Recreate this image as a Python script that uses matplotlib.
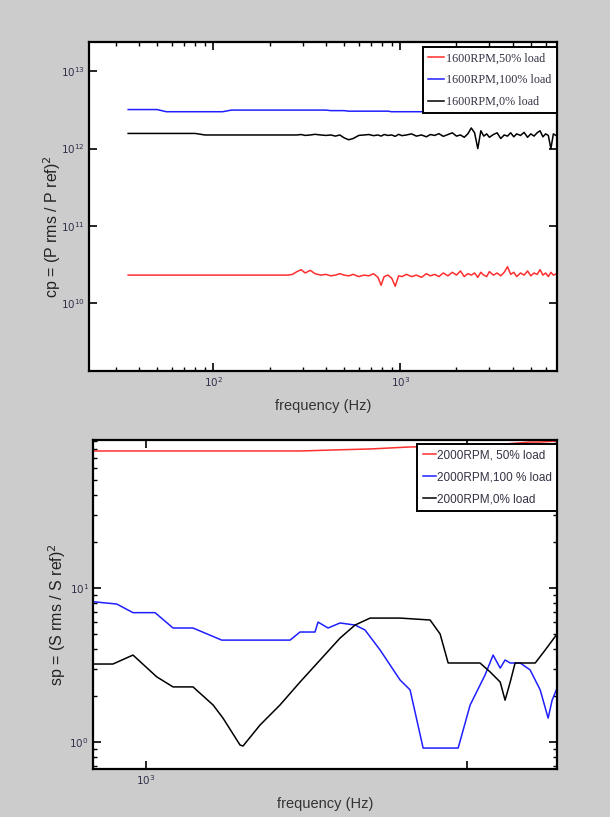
import matplotlib
matplotlib.use('Agg')
import matplotlib.pyplot as plt
from matplotlib.ticker import NullLocator, NullFormatter, FixedLocator, FixedFormatter

# ---- upper panel: 1600 RPM, cp spectra ----
freq_top = [35, 40, 45, 50, 56, 63, 71, 80, 90, 100,
            112, 125, 140, 160, 180, 200, 224, 250, 265, 280,
            295, 310, 330, 350, 375, 400, 425, 450, 475, 500,
            530, 560, 600, 640, 680, 720, 760, 790, 820, 860,
            900, 940, 980, 1020, 1080, 1150, 1220, 1300, 1380, 1450,
            1530, 1610, 1700, 1800, 1900, 2000, 2100, 2200, 2300, 2400,
            2500, 2600, 2700, 2800, 2900, 3000, 3150, 3300, 3450, 3600,
            3750, 3900, 4050, 4200, 4400, 4600, 4800, 5000, 5200, 5400,
            5600, 5800, 6000, 6200, 6400, 6600, 6900]

# 50% load, x 1e10
cp_50 = [2.3, 2.3, 2.3, 2.3, 2.3, 2.3, 2.3, 2.3, 2.3, 2.3,
         2.3, 2.3, 2.3, 2.3, 2.3, 2.3, 2.3, 2.3, 2.35, 2.55,
         2.7, 2.45, 2.65, 2.4, 2.3, 2.35, 2.25, 2.3, 2.4, 2.3,
         2.25, 2.35, 2.2, 2.3, 2.25, 2.4, 2.15, 1.7, 2.2, 2.3,
         2.1, 1.65, 2.25, 2.2, 2.35, 2.2, 2.3, 2.15, 2.4, 2.25,
         2.35, 2.2, 2.45, 2.25, 2.5, 2.3, 2.6, 2.2, 2.4, 2.3,
         2.45, 2.15, 2.5, 2.3, 2.2, 2.55, 2.3, 2.45, 2.25, 2.5,
         2.95, 2.35, 2.5, 2.2, 2.45, 2.3, 2.6, 2.25, 2.45, 2.35,
         2.7, 2.3, 2.45, 2.2, 2.5, 2.3, 2.4]

# 100% load, x 1e12
cp_100 = [3.2, 3.2, 3.2, 3.2, 3.0, 3.0, 3.0, 3.0, 3.0, 3.0,
          3.0, 3.15, 3.15, 3.15, 3.15, 3.15, 3.15, 3.15, 3.15, 3.15,
          3.15, 3.15, 3.15, 3.15, 3.15, 3.15, 3.1, 3.1, 3.1, 3.1,
          3.05, 3.05, 3.05, 3.05, 3.05, 3.05, 3.05, 3.05, 3.05, 3.05,
          3.0, 3.0, 3.0, 3.0, 3.0, 3.0, 3.0, 3.0, 3.0, 3.0,
          3.0, 3.05, 3.0, 3.05, 3.0, 3.05, 3.0, 3.05, 3.0, 3.05,
          3.0, 3.05, 3.0, 3.05, 3.0, 3.05, 3.0, 3.05, 3.0, 3.05,
          3.0, 3.05, 3.0, 3.05, 3.0, 3.05, 3.0, 3.05, 3.0, 3.05,
          3.0, 3.05, 3.0, 3.05, 3.0, 3.05, 3.0]

# 0% load, x 1e12
cp_0 = [1.57, 1.57, 1.57, 1.57, 1.57, 1.57, 1.57, 1.57, 1.5, 1.5,
        1.5, 1.5, 1.5, 1.5, 1.5, 1.5, 1.5, 1.5, 1.5, 1.5,
        1.52, 1.48, 1.5, 1.53, 1.5, 1.48, 1.5, 1.45, 1.5, 1.38,
        1.3, 1.35, 1.48, 1.5, 1.52, 1.47, 1.5, 1.45, 1.52, 1.48,
        1.5, 1.44, 1.53, 1.47, 1.5, 1.55, 1.45, 1.5, 1.42, 1.52,
        1.48, 1.56, 1.44, 1.52, 1.6, 1.45, 1.5, 1.4, 1.55, 1.85,
        1.6, 1.0, 1.7, 1.45, 1.55, 1.4, 1.52, 1.6, 1.35, 1.5,
        1.45, 1.6, 1.42, 1.55, 1.48, 1.62, 1.4, 1.55, 1.45, 1.6,
        1.7, 1.42, 1.55, 1.48, 1.0, 1.55, 1.45]

# ---- lower panel: 2000 RPM, sp spectra ----
freq_red_bot = [684, 1000, 2000, 3017, 4020, 5000, 6644, 10000, 13000, 15700, 16900, 19060]
sp_50 = [77.6, 77.6, 77.6, 77.6, 79.0, 80.0, 82.4, 84.0, 86.0, 88.7, 88.7, 90.0]

freq_blue_bot = [684, 811, 911, 1067, 1214, 1401, 1721, 2810, 3017, 3360,
                 3434, 3690, 4020, 4478, 4810, 5358, 6183, 6644, 7295, 9380,
                 10220, 11370, 12050, 12680, 13130, 13620, 14630, 15710, 16890, 17880,
                 18400, 19060]
sp_100 = [8.15, 7.87, 6.92, 6.92, 5.50, 5.50, 4.59, 4.59, 5.18, 5.18,
          6.01, 5.50, 5.93, 5.75, 5.34, 3.96, 2.53, 2.18, 0.914, 0.914,
          1.74, 2.72, 3.67, 3.02, 3.41, 3.26, 3.26, 2.94, 2.18, 1.43,
          1.87, 2.24]

freq_black_bot = [684, 789, 911, 1080, 1214, 1401, 1618, 1737, 1963, 2005,
                  2266, 2614, 3017, 3485, 4020, 4478, 4987, 6183, 7670, 8240,
                  8730, 10970, 11800, 12680, 13130, 13620, 14110, 16300, 17510, 19060]
sp_0 = [3.21, 3.21, 3.67, 2.65, 2.28, 2.28, 1.74, 1.43, 0.956, 0.942,
        1.29, 1.74, 2.45, 3.41, 4.73, 5.75, 6.38, 6.38, 6.20, 5.03,
        3.26, 3.26, 2.85, 2.45, 1.87, 2.45, 3.26, 3.26, 3.96, 5.03]

top_labels = ['1600RPM,50% load', '1600RPM,100% load', '1600RPM,0% load']
bot_labels = ['2000RPM, 50% load', '2000RPM,100 % load', '2000RPM,0% load']

RED = '#ff2e2e'
BLUE = '#1f1fff'
TICKCOL = '#30304a'
SANS = 'Liberation Sans'


def style_axes(ax):
    for s in ax.spines.values():
        s.set_linewidth(1.6)
        s.set_color('black')
    ax.tick_params(which='both', direction='in', top=True, right=True,
                   colors='black', labelcolor=TICKCOL, labelsize=7.5, pad=3)
    ax.tick_params(which='major', length=6, width=1.2)
    ax.tick_params(which='minor', length=3, width=1.0)


fig = plt.figure(figsize=(6.1, 8.17), dpi=100)
fig.patch.set_facecolor('#cccccc')

# upper panel
ax1 = fig.add_axes([0.1459, 0.5459, 0.7672, 0.4027])
ax1.plot(freq_top, [v * 1e10 for v in cp_50], color=RED, lw=1.1, label=top_labels[0])
ax1.plot(freq_top, [v * 1e12 for v in cp_100], color=BLUE, lw=1.1, label=top_labels[1])
ax1.plot(freq_top, [v * 1e12 for v in cp_0], color='black', lw=1.1, label=top_labels[2])
ax1.set_xscale('log')
ax1.set_yscale('log')
ax1.set_xlim(21.6, 6900)
ax1.set_ylim(10 ** 9.12, 10 ** 13.38)
ax1.yaxis.set_minor_locator(NullLocator())
ax1.xaxis.set_minor_formatter(NullFormatter())
style_axes(ax1)
ax1.set_xlabel('frequency (Hz)', fontsize=10.5, family=SANS, color='#333333')
ax1.xaxis.set_label_coords(0.5, -0.085)
ax1.set_ylabel('cp = (P rms / P ref)$^2$', fontsize=11.5, family=SANS, color='#222222')
ax1.yaxis.set_label_coords(-0.056, 0.44)
leg1 = ax1.legend(loc='upper right', bbox_to_anchor=(1.0, 1 - 5 / 329), borderaxespad=0,
                  prop={'family': 'Liberation Serif', 'size': 8.7}, handlelength=1.35,
                  handletextpad=0.15, labelspacing=0.8, borderpad=0.45,
                  fancybox=False, framealpha=1, edgecolor='black')
leg1.get_frame().set_linewidth(1.4)
for t in leg1.get_texts():
    t.set_color('#333344')

# lower panel
ax2 = fig.add_axes([0.1525, 0.0591, 0.7607, 0.4023])
ax2.plot(freq_red_bot, sp_50, color=RED, lw=1.1, label=bot_labels[0])
ax2.plot(freq_blue_bot, sp_100, color=BLUE, lw=1.1, label=bot_labels[1])
ax2.plot(freq_black_bot, sp_0, color='black', lw=1.1, label=bot_labels[2])
ax2.set_xscale('log')
ax2.set_yscale('log')
ax2.set_xlim(684, 19060)
ax2.set_ylim(0.671, 91.4)
ax2.xaxis.set_major_locator(FixedLocator([1e3, 1e4]))
ax2.xaxis.set_major_formatter(FixedFormatter(['$10^{3}$', '']))
ax2.xaxis.set_minor_locator(NullLocator())
ax2.yaxis.set_minor_formatter(NullFormatter())
style_axes(ax2)
ax2.set_xlabel('frequency (Hz)', fontsize=10.5, family=SANS, color='#333333')
ax2.xaxis.set_label_coords(0.5, -0.085)
ax2.set_ylabel('sp = (S rms / S ref)$^2$', fontsize=11.5, family=SANS, color='#222222')
ax2.yaxis.set_label_coords(-0.055, 0.47)
leg2 = ax2.legend(loc='upper right', bbox_to_anchor=(1.0, 1 - 4 / 329), borderaxespad=0,
                  prop={'family': SANS, 'size': 8.5}, handlelength=1.1,
                  handletextpad=0.1, labelspacing=0.85, borderpad=0.45,
                  fancybox=False, framealpha=1, edgecolor='black')
leg2.get_frame().set_linewidth(1.4)
for t in leg2.get_texts():
    t.set_color('#333344')

fig.savefig('out.png', dpi=100, facecolor=fig.get_facecolor())
